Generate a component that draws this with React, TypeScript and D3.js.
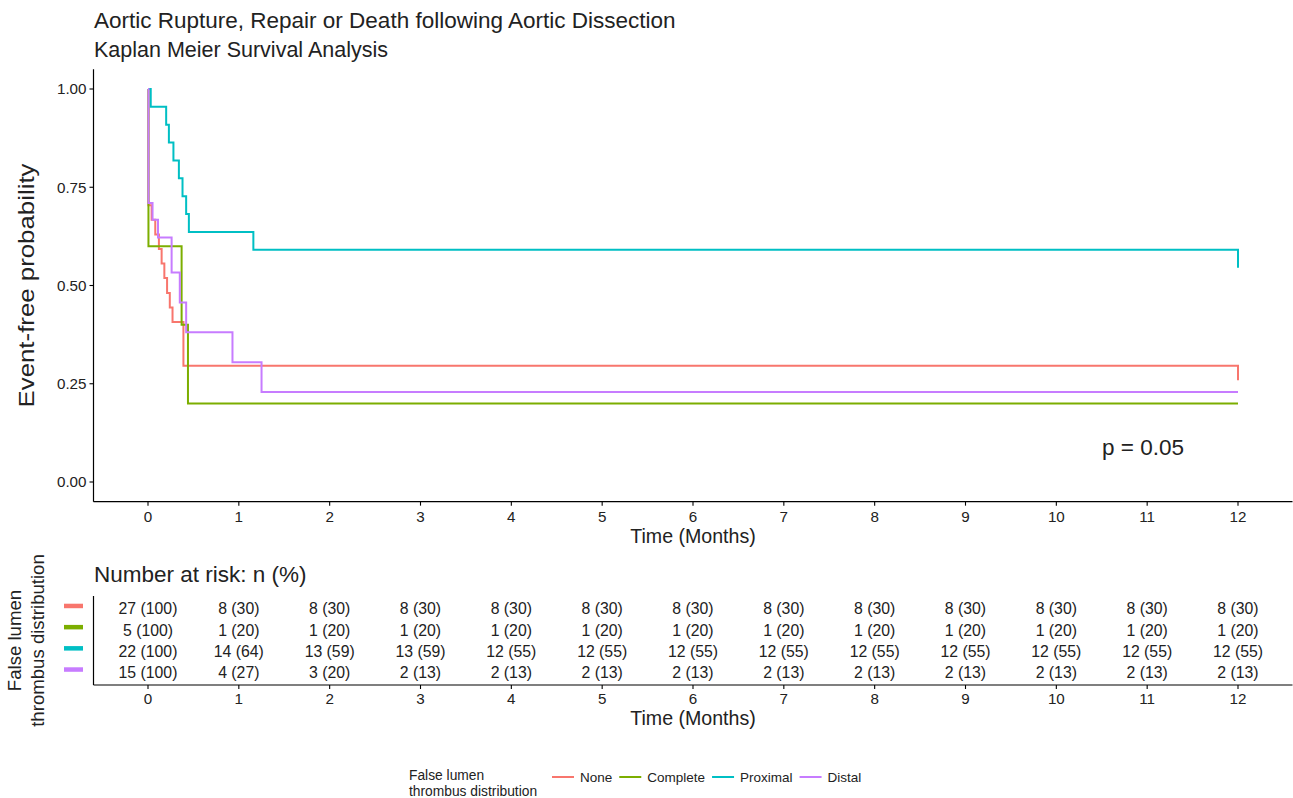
import React from "react";
import * as d3 from "d3";

// groups + ggplot default hues
const groups = ["None", "Complete", "Proximal", "Distal"];
const colors = ["#F8766D", "#7CAE00", "#00BFC4", "#C77CFF"];

// KM steps: time (months) and survival after that step
const noneTimes = [0, 0.005, 0.04, 0.08, 0.12, 0.15, 0.18, 0.21, 0.24, 0.27, 0.39, 12];
const noneSurv = [1, 0.704, 0.667, 0.63, 0.593, 0.556, 0.519, 0.481, 0.444, 0.407, 0.296, 0.259];
const completeTimes = [0, 0.005, 0.37, 0.44, 12];
const completeSurv = [1, 0.6, 0.4, 0.2, 0.2];
const proximalTimes = [0, 0.03, 0.2, 0.23, 0.28, 0.34, 0.38, 0.42, 0.45, 1.16, 12];
const proximalSurv = [1, 0.955, 0.909, 0.864, 0.818, 0.773, 0.727, 0.682, 0.636, 0.591, 0.545];
const distalTimes = [0, 0.005, 0.05, 0.11, 0.26, 0.35, 0.42, 0.93, 1.25, 12];
const distalSurv = [1, 0.71, 0.667, 0.622, 0.533, 0.457, 0.381, 0.305, 0.229, 0.229];

const timeTicks = [0, 1, 2, 3, 4, 5, 6, 7, 8, 9, 10, 11, 12];
const probTicks = [0, 0.25, 0.5, 0.75, 1];

// number at risk at each time tick
const noneRisk = [27, 8, 8, 8, 8, 8, 8, 8, 8, 8, 8, 8, 8];
const completeRisk = [5, 1, 1, 1, 1, 1, 1, 1, 1, 1, 1, 1, 1];
const proximalRisk = [22, 14, 13, 13, 12, 12, 12, 12, 12, 12, 12, 12, 12];
const distalRisk = [15, 4, 3, 2, 2, 2, 2, 2, 2, 2, 2, 2, 2];

const curves = [
    {times: noneTimes, surv: noneSurv},
    {times: completeTimes, surv: completeSurv},
    {times: proximalTimes, surv: proximalSurv},
    {times: distalTimes, surv: distalSurv}
];
const risks = [noneRisk, completeRisk, proximalRisk, distalRisk];

const FONT = "'Liberation Sans', Arial, Helvetica, sans-serif";
const TXT = "#222";

// text widths for the legend layout
let ctx = null;
function textWidth(s, size){
    if(!ctx){
        ctx = document.createElement("canvas").getContext("2d");
    }
    ctx.font = size + "px " + FONT;
    return ctx.measureText(s).width;
}

class KMPlot extends React.Component{
    render(){
        const x = this.props.x;
        const y = d3.scaleLinear().domain([0, 1]).range([482, 89]);
        const y0 = y(-0.05), y1 = y(1.05);
        const line = d3.line().curve(d3.curveStepAfter)
            .x(d => x(d[0])).y(d => y(d[1]));
        return(
            <g>
                {curves.map((c, i) =>
                    <path key={i} d={line(c.times.map((t, j) => [t, c.surv[j]]))}
                        fill="none" stroke={colors[i]} strokeWidth={2} />
                )}
                <line x1={x(-0.6)} x2={x(-0.6)} y1={y1} y2={y0} stroke="#000" strokeWidth={1.2} />
                <line x1={x(-0.6)} x2={x(12.6)} y1={y0} y2={y0} stroke="#000" strokeWidth={1.2} />
                {probTicks.map(p =>
                    <g key={p}>
                        <line x1={x(-0.6) - 4} x2={x(-0.6)} y1={y(p)} y2={y(p)} stroke="#000" strokeWidth={1.1} />
                        <text x={x(-0.6) - 7} y={y(p)} dy="0.35em" textAnchor="end"
                            fontSize={15.2} fill={TXT}>{d3.format(".2f")(p)}</text>
                    </g>
                )}
                {timeTicks.map(t =>
                    <g key={t}>
                        <line x1={x(t)} x2={x(t)} y1={y0} y2={y0 + 4} stroke="#000" strokeWidth={1.1} />
                        <text x={x(t)} y={y0 + 20} textAnchor="middle"
                            fontSize={15.2} fill={TXT}>{t}</text>
                    </g>
                )}
                <text x={(x(-0.6) + x(12.6)) / 2} y={543} textAnchor="middle"
                    fontSize={19.6} fill={TXT}>Time (Months)</text>
                <text transform={"translate(34," + y(0.5) + ") rotate(-90)"} textAnchor="middle"
                    fontSize={22} fill={TXT} textLength={244} lengthAdjust="spacingAndGlyphs">Event-free probability</text>
                <text x={1102} y={455} fontSize={22.5} fill={TXT}>p = 0.05</text>
            </g>
        );
    }
}

class RiskTable extends React.Component{
    render(){
        const x = this.props.x;
        const top = 596, bottom = 685;
        const rowY = d3.scalePoint().domain(groups).range([top, bottom]).padding(0.6);
        return(
            <g>
                <text x={94} y={582} fontSize={22.5} fill={TXT}>Number at risk: n (%)</text>
                {groups.map((g, i) =>
                    <g key={g}>
                        <rect x={64} y={rowY(g) - 5} width={19} height={4.5} fill={colors[i]} />
                        {risks[i].map((n, j) =>
                            <text key={j} x={x(timeTicks[j])} y={rowY(g)} dy="0.36em"
                                textAnchor="middle" fontSize={15.8} fill={TXT}>
                                {n + " (" + Math.round(n / risks[i][0] * 100) + ")"}
                            </text>
                        )}
                    </g>
                )}
                <line x1={x(-0.6)} x2={x(-0.6)} y1={top} y2={bottom} stroke="#000" strokeWidth={1.2} />
                <line x1={x(-0.6)} x2={x(12.6)} y1={bottom} y2={bottom} stroke="#000" strokeWidth={1.2} />
                {timeTicks.map(t =>
                    <g key={t}>
                        <line x1={x(t)} x2={x(t)} y1={bottom} y2={bottom + 4} stroke="#000" strokeWidth={1.1} />
                        <text x={x(t)} y={bottom + 19} textAnchor="middle"
                            fontSize={15.2} fill={TXT}>{t}</text>
                    </g>
                )}
                <text x={(x(-0.6) + x(12.6)) / 2} y={725} textAnchor="middle"
                    fontSize={19.6} fill={TXT}>Time (Months)</text>
                <text transform={"translate(21," + (top + bottom) / 2 + ") rotate(-90)"} textAnchor="middle"
                    fontSize={18.6} fill={TXT}>False lumen</text>
                <text transform={"translate(44," + (top + bottom) / 2 + ") rotate(-90)"} textAnchor="middle"
                    fontSize={18.6} fill={TXT}>thrombus distribution</text>
            </g>
        );
    }
}

class Legend extends React.Component{
    render(){
        const size = 13.5;
        let pos = 552;
        const items = groups.map((g, i) => {
            const item = {g: g, c: colors[i], x: pos};
            pos += 22 + 6 + textWidth(g, size) + 7;
            return item;
        });
        return(
            <g>
                <text x={409} y={780} fontSize={13.8} fill={TXT}>False lumen</text>
                <text x={409} y={796} fontSize={13.8} fill={TXT}>thrombus distribution</text>
                {items.map(it =>
                    <g key={it.g}>
                        <line x1={it.x} x2={it.x + 22} y1={777} y2={777} stroke={it.c} strokeWidth={2} />
                        <text x={it.x + 28} y={777} dy="0.35em" fontSize={size} fill={TXT}>{it.g}</text>
                    </g>
                )}
            </g>
        );
    }
}

export default function App(){
    const x = d3.scaleLinear().domain([0, 12]).range([148, 1238]);
    return(
        <svg width={1293} height={798} fontFamily={FONT}
            style={{position: "absolute", left: 0, top: 0, background: "#fff"}}>
            <rect width={1293} height={798} fill="#fff" />
            <text x={94} y={28} fontSize={22.5} fill={TXT}>Aortic Rupture, Repair or Death following Aortic Dissection</text>
            <text x={94} y={57} fontSize={21.5} fill={TXT}>Kaplan Meier Survival Analysis</text>
            <KMPlot x={x} />
            <RiskTable x={x} />
            <Legend />
        </svg>
    );
}
